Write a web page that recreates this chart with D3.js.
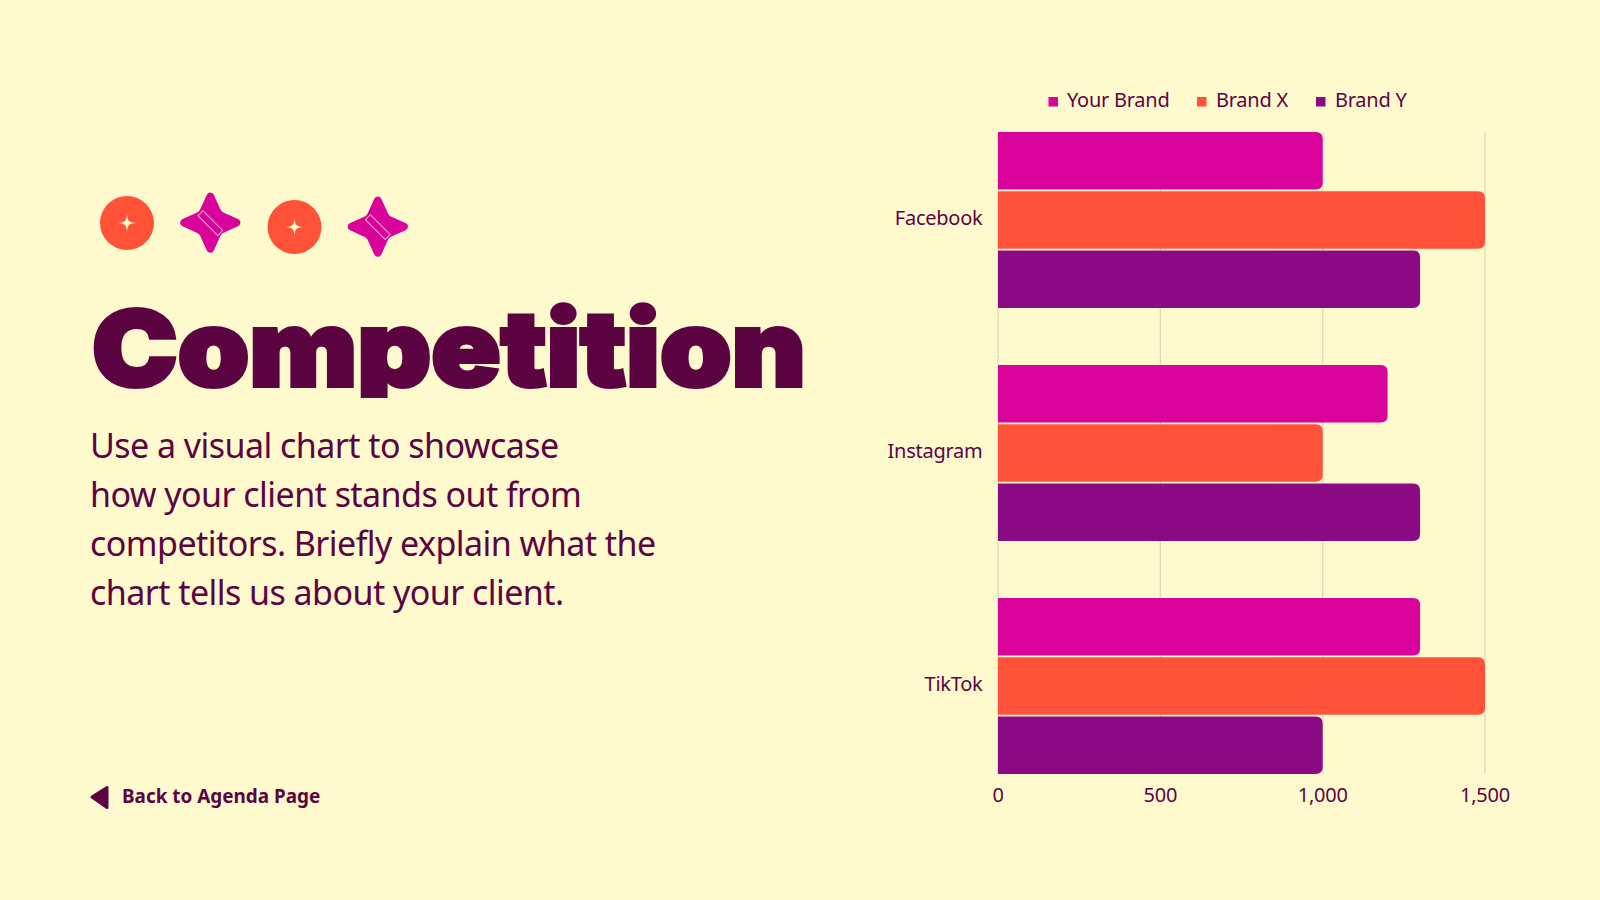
<!DOCTYPE html>
<html><head><meta charset="utf-8">
<script src="https://cdn.jsdelivr.net/npm/d3@7"></script>
<style>html,body{margin:0;padding:0;background:#FFF9CE;overflow:hidden}svg{display:block}</style>
</head><body><svg id="c" width="1600" height="900"></svg>
<script>
const categories=["Facebook","Instagram","TikTok"];
const seriesNames=["Your Brand","Brand X","Brand Y"];
const yourBrand=[1000,1200,1300];
const brandX=[1500,1000,1500];
const brandY=[1300,1300,1000];
const xTicks=[0,500,1000,1500];
const seriesColors=["#D9029A","#FF5238","#8B0A83"];
const ink="#5C0341";
const paper="#FFF9CE";
const bodyLines=["Use a visual chart to showcase","how your client stands out from","competitors. Briefly explain what the","chart tells us about your client."];

const svg=d3.select("#c");
svg.append("rect").attr("width",1600).attr("height",900).attr("fill",paper);
const x=d3.scaleLinear().domain([0,1500]).range([998,1485]);
const yCat=d3.scalePoint().domain(categories).range([220,686]);
const yS=d3.scaleBand().domain(seriesNames).range([-88,88]).paddingInner(0.03);
const series=[yourBrand,brandX,brandY];

const g=svg.append("g");
g.selectAll("line.grid").data(xTicks).join("line").attr("x1",d=>x(d)).attr("x2",d=>x(d)).attr("y1",132).attr("y2",774).attr("stroke","#DAD7B2").attr("stroke-width",1.2);
series.forEach((vals,si)=>{
 g.selectAll("path.s"+si).data(vals).join("path").attr("fill",seriesColors[si]).attr("d",(v,i)=>{
  const top=yCat(categories[i])+yS(seriesNames[si]),h=yS.bandwidth(),l=x(0),r=x(v),rad=7;
  return `M${l},${top}H${r-rad}Q${r},${top} ${r},${top+rad}V${top+h-rad}Q${r},${top+h} ${r-rad},${top+h}H${l}Z`;
 });
});
const font="'Noto Sans'";
const labelSpacing=-0.25;
g.selectAll("text.cat").data(categories).join("text").attr("x",982.5).attr("y",d=>yCat(d)+5).attr("text-anchor","end").attr("font-family",font).attr("font-size",20).attr("letter-spacing",labelSpacing).attr("fill",ink).text(d=>d);
g.selectAll("text.tick").data(xTicks).join("text").attr("x",d=>x(d)).attr("y",802).attr("text-anchor","middle").attr("font-family",font).attr("font-size",20).attr("letter-spacing",labelSpacing).attr("fill",ink).text(d3.format(","));
const legX=[1048.5,1197,1316],legT=[1067,1216,1335];
seriesNames.forEach((n,i)=>{
 svg.append("rect").attr("x",legX[i]).attr("y",97).attr("width",9.5).attr("height",9.5).attr("fill",seriesColors[i]);
 svg.append("text").attr("x",legT[i]).attr("y",107).attr("font-family",font).attr("font-size",20).attr("letter-spacing",labelSpacing).attr("fill",ink).text(n);
});
svg.append("clipPath").attr("id","titleClip").append("rect").attr("x",60).attr("y",290).attr("width",800).attr("height",108);
svg.append("g").attr("clip-path","url(#titleClip)").append("text").attr("x",92).attr("y",386).attr("font-family","Inter").attr("font-weight",900).attr("font-size",105).attr("stroke",ink).attr("stroke-width",4).attr("textLength",714).attr("lengthAdjust","spacingAndGlyphs").attr("fill",ink).text("Competition");
svg.selectAll("text.body").data(bodyLines).join("text").attr("x",90).attr("y",(d,i)=>458+i*49).attr("font-family",font).attr("font-size",34).attr("letter-spacing",-0.55).attr("fill",ink).text(d=>d);
svg.append("path").attr("d","M92,797L107,787.5V807.5Z").attr("fill",ink).attr("stroke",ink).attr("stroke-width",3).attr("stroke-linejoin","round");
svg.append("text").attr("x",122).attr("y",803).attr("font-family",font).attr("font-weight",700).attr("font-size",18.9).attr("fill",ink).text("Back to Agenda Page");
[[127,223],[294.5,227]].forEach(([cx,cy])=>{
 svg.append("circle").attr("cx",cx).attr("cy",cy).attr("r",27).attr("fill","#FF5238");
 svg.append("path").attr("d",["M0,-9C.4,-2 2,-.4 9,0","C2,.4 .4,2 0,9","C-.4,2 -2,.4 -9,0","C-2,-.4 -.4,-2 0,-9Z"].join("")).attr("transform",`translate(${cx},${cy})`).attr("fill",paper);
});
[[210.3,222.7],[377.8,226.7]].forEach(([cx,cy])=>{
 svg.append("path").attr("d","M0,-26L6.5,-11.5Q8,-8 11.5,-6.5L26,0L11.5,6.5Q8,8 6.5,11.5L0,26L-6.5,11.5Q-8,8 -11.5,6.5L-26,0L-11.5,-6.5Q-8,-8 -6.5,-11.5Z").attr("transform",`translate(${cx},${cy})`).attr("fill","#D9029A").attr("stroke","#D9029A").attr("stroke-width",8).attr("stroke-linejoin","round");
 svg.append("rect").attr("x",-14).attr("y",-3.5).attr("width",28).attr("height",7).attr("transform",`translate(${cx},${cy+.5}) rotate(45)`).attr("fill","none").attr("stroke","#F5A6D8").attr("stroke-width",1);
});
</script></body></html>
